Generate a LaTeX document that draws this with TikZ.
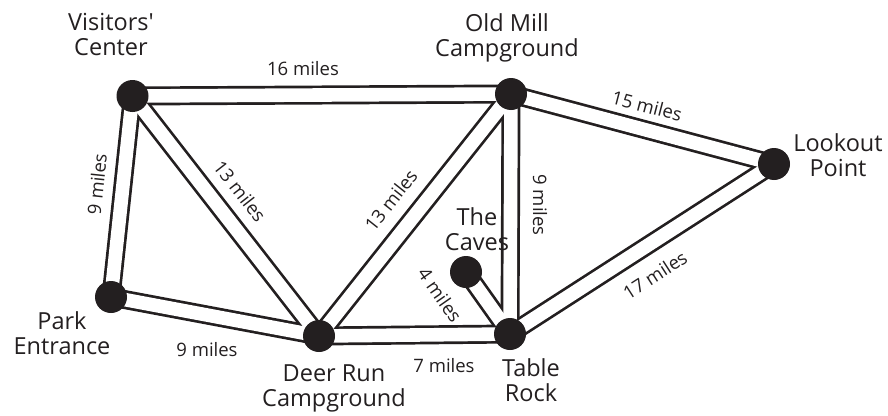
\documentclass[tikz,border=0pt]{standalone}
\usepackage{fontspec}
\setmainfont{Open Sans}[Ligatures=TeXOff]
\definecolor{ink}{HTML}{231F20}
\begin{document}
\begin{tikzpicture}[x=1pt,y=-1pt,
  stop/.style={circle,fill=ink,minimum size=32pt,inner sep=0pt},
  roadedge/.style={draw=ink,line width=19pt},
  roadfill/.style={draw=white,line width=13.6pt},
  place/.style={align=center,font=\fontsize{23.5}{25}\selectfont,text=ink,inner sep=0pt},
  dist/.style={font=\fontsize{18.5}{20}\selectfont,text=ink,inner sep=0pt}]
\useasboundingbox (0,0) rectangle (888,415);
% stop centres
\coordinate (vc) at (132.5,96);
\coordinate (om) at (511,94);
\coordinate (lp) at (774,164);
\coordinate (pe) at (111,297);
\coordinate (dr) at (319,336);
\coordinate (tr) at (510,334);
\coordinate (ca) at (466,272);
% roads: borders, then inner white
\foreach \a/\b in {vc/om,vc/pe,vc/dr,pe/dr,dr/om,dr/tr,om/tr,om/lp,tr/lp,ca/tr}
  \draw[roadedge] (\a) -- (\b);
\foreach \a/\b in {vc/om,vc/pe,vc/dr,pe/dr,dr/om,dr/tr,om/tr,om/lp,tr/lp,ca/tr}
  \draw[roadfill] (\a) -- (\b);
% stops
\foreach \s in {vc,om,lp,pe,dr,tr,ca}
  \node[stop] (\s dot) at (\s) {};
% place names
\node[place] (vclab) at (111,34) {Visitors'\\Center};
\node[place] (omlab) at (507,38) {Old Mill\\Campground};
\node[place] (lplab) at (838,155) {Lookout\\Point};
\node[place] (calab) at (477,229) {The\\Caves};
\node[place] (pelab) at (62,333) {Park\\Entrance};
\node[place] (drlab) at (334,388) {Deer Run\\Campground};
\node[place] (trlab) at (531,380) {Table\\Rock};
% distances
\node[dist] (d1) at (303,69) {16 miles};
\node[dist,rotate=-14.6] (d2) at (647,106) {15 miles};
\node[dist,rotate=84] (d3) at (97,184) {9 miles};
\node[dist,rotate=-52] (d4) at (240,191) {13 miles};
\node[dist,rotate=51.6] (d5) at (391,200) {13 miles};
\node[dist,rotate=-90] (d6) at (540,205) {9 miles};
\node[dist,rotate=-55] (d7) at (440,295) {4 miles};
\node[dist,rotate=32.8] (d8) at (655,275) {17 miles};
\node[dist] (d9) at (207,350) {9 miles};
\node[dist] (d10) at (444,366) {7 miles};
\end{tikzpicture}
\end{document}
